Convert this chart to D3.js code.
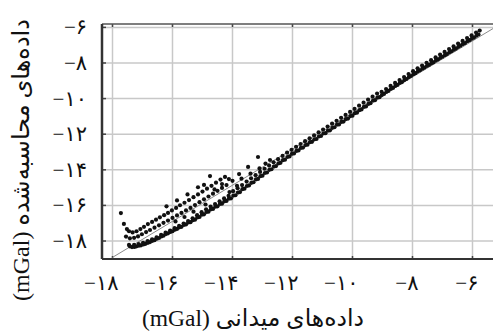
<!DOCTYPE html>
<html>
<head>
<meta charset="utf-8">
<script src="https://d3js.org/d3.v7.min.js"></script>
<style>
  body { margin: 0; background: #fff; }
  .tick-label { font-family: 'Liberation Serif', 'DejaVu Sans', serif; font-size: 21px; fill: #111; }
  .axis-title { font-family: 'Liberation Serif', 'DejaVu Sans', serif; font-size: 23.5px; fill: #111; }
</style>
</head>
<body>
<svg width="493" height="336"></svg>
<script>
// tick values and their Persian labels
const xTicks = [-18, -16, -14, -12, -10, -8, -6];
const yTicks = [-18, -16, -14, -12, -10, -8, -6];
const tickLabels = ['\u2212۱۸', '\u2212۱۶', '\u2212۱۴', '\u2212۱۲', '\u2212۱۰', '\u2212۸', '\u2212۶'];
const xTitle = 'داده\u200cهای میدانی (mGal)';
const yTitle = 'داده\u200cهای محاسبه\u200cشده (mGal)';

// reference line end points [field, computed]
const refLine = [[-18, -18.92], [-5.3, -6.05]];

// main band, lower row [field, computed]
const bandLow = [
  [-17.45, -18.22], [-17.35, -18.34], [-17.2, -18.3], [-17.05, -18.24], [-16.9, -18.16], [-16.75, -18.06],
  [-16.6, -17.95], [-16.45, -17.83], [-16.3, -17.7], [-16.15, -17.57], [-16.0, -17.45], [-15.85, -17.32],
  [-15.7, -17.2], [-15.55, -17.07], [-15.4, -16.94], [-15.25, -16.8], [-15.1, -16.65], [-14.95, -16.5],
  [-14.8, -16.35], [-14.65, -16.2], [-14.5, -16.05], [-14.35, -15.9], [-14.2, -15.75], [-14.05, -15.6],
  [-13.9, -15.43], [-13.75, -15.25], [-13.6, -15.06], [-13.45, -14.88], [-13.3, -14.7], [-13.15, -14.51],
  [-13.0, -14.33], [-12.85, -14.15], [-12.7, -13.97], [-12.55, -13.79], [-12.4, -13.61], [-12.25, -13.43],
  [-12.1, -13.25], [-11.95, -13.08], [-11.8, -12.91], [-11.65, -12.75], [-11.5, -12.59], [-11.35, -12.43],
  [-11.2, -12.27], [-11.05, -12.1], [-10.9, -11.94], [-10.75, -11.78], [-10.6, -11.61], [-10.45, -11.45],
  [-10.3, -11.29], [-10.15, -11.12], [-10.0, -10.96], [-9.85, -10.79], [-9.7, -10.61], [-9.55, -10.44],
  [-9.4, -10.26], [-9.25, -10.09], [-9.1, -9.92], [-8.95, -9.74], [-8.8, -9.57], [-8.65, -9.4],
  [-8.5, -9.23], [-8.35, -9.07], [-8.2, -8.9], [-8.05, -8.73], [-7.9, -8.57], [-7.75, -8.41],
  [-7.6, -8.26], [-7.45, -8.11], [-7.3, -7.96], [-7.15, -7.8], [-7.0, -7.65], [-6.85, -7.5],
  [-6.7, -7.34], [-6.55, -7.19], [-6.4, -7.03], [-6.25, -6.88], [-6.1, -6.72], [-5.95, -6.57],
  [-5.8, -6.4]
];

// main band, middle row
const bandMid = [
  [-17.42, -18.3], [-17.27, -18.33], [-17.12, -18.26], [-16.97, -18.19], [-16.82, -18.1], [-16.67, -17.99],
  [-16.52, -17.87], [-16.37, -17.74], [-16.22, -17.61], [-16.07, -17.49], [-15.92, -17.36], [-15.77, -17.23],
  [-15.62, -17.1], [-15.47, -16.96], [-15.32, -16.83], [-15.17, -16.68], [-15.02, -16.52], [-14.87, -16.37],
  [-14.72, -16.22], [-14.57, -16.07], [-14.42, -15.92], [-14.27, -15.77], [-14.12, -15.62], [-13.97, -15.45],
  [-13.82, -15.28], [-13.67, -15.09], [-13.52, -14.91], [-13.37, -14.73], [-13.22, -14.54], [-13.07, -14.36],
  [-12.92, -14.18], [-12.77, -14.0], [-12.62, -13.82], [-12.47, -13.64], [-12.32, -13.46], [-12.17, -13.28],
  [-12.02, -13.1], [-11.87, -12.94], [-11.72, -12.77], [-11.57, -12.61], [-11.42, -12.45], [-11.27, -12.29],
  [-11.12, -12.13], [-10.97, -11.96], [-10.82, -11.8], [-10.67, -11.64], [-10.52, -11.47], [-10.37, -11.31],
  [-10.22, -11.15], [-10.07, -10.98], [-9.92, -10.82], [-9.77, -10.65], [-9.62, -10.47], [-9.47, -10.3],
  [-9.32, -10.12], [-9.17, -9.95], [-9.02, -9.8], [-8.87, -9.63], [-8.72, -9.46], [-8.57, -9.29],
  [-8.42, -9.12], [-8.27, -8.96], [-8.12, -8.79], [-7.97, -8.63], [-7.82, -8.47], [-7.67, -8.32],
  [-7.52, -8.17], [-7.37, -8.02], [-7.22, -7.86], [-7.07, -7.71], [-6.92, -7.56], [-6.77, -7.4],
  [-6.62, -7.25], [-6.47, -7.09], [-6.32, -6.94], [-6.17, -6.78], [-6.02, -6.63], [-5.87, -6.47]
];

// main band, upper row
const bandHigh = [
  [-17.28, -18.22], [-17.13, -18.17], [-16.98, -18.1], [-16.83, -18.01], [-16.68, -17.9], [-16.53, -17.79],
  [-16.38, -17.66], [-16.23, -17.53], [-16.08, -17.41], [-15.93, -17.28], [-15.78, -17.15], [-15.63, -17.02],
  [-15.48, -16.88], [-15.33, -16.72], [-15.18, -16.55], [-15.03, -16.38], [-14.88, -16.22], [-14.73, -16.06],
  [-14.58, -15.92], [-14.43, -15.77], [-14.28, -15.61], [-14.13, -15.46], [-13.98, -15.2], [-13.83, -15.03],
  [-13.68, -14.86], [-13.53, -14.66], [-13.38, -14.48], [-13.23, -14.3], [-13.08, -14.12], [-12.93, -13.94],
  [-12.78, -13.76], [-12.63, -13.58], [-12.48, -13.4], [-12.33, -13.22], [-12.18, -13.04], [-12.03, -12.88],
  [-11.88, -12.71], [-11.73, -12.55], [-11.58, -12.39], [-11.43, -12.23], [-11.28, -12.07], [-11.13, -11.9],
  [-10.98, -11.74], [-10.83, -11.57], [-10.68, -11.41], [-10.53, -11.25], [-10.38, -11.08], [-10.23, -10.92],
  [-10.08, -10.75], [-9.93, -10.58], [-9.78, -10.4], [-9.63, -10.23], [-9.48, -10.06], [-9.33, -9.89],
  [-9.18, -9.72], [-9.03, -9.62], [-8.88, -9.46], [-8.73, -9.29], [-8.58, -9.12], [-8.43, -8.96],
  [-8.28, -8.79], [-8.13, -8.62], [-7.98, -8.46], [-7.83, -8.3], [-7.68, -8.14], [-7.53, -7.99],
  [-7.38, -7.84], [-7.23, -7.69], [-7.08, -7.53], [-6.93, -7.38], [-6.78, -7.22], [-6.63, -7.07],
  [-6.48, -6.91], [-6.33, -6.76], [-6.18, -6.6], [-6.03, -6.45], [-5.88, -6.29], [-5.76, -6.18]
];

// upper hooked streak
const streakA = [
  [-17.45, -17.45], [-17.33, -17.52], [-17.2, -17.45], [-17.07, -17.33], [-16.95, -17.2], [-16.82, -17.05],
  [-16.68, -16.93], [-16.55, -16.8], [-16.42, -16.67], [-16.28, -16.55], [-16.15, -16.42], [-16.02, -16.28],
  [-15.88, -16.14], [-15.75, -15.99], [-15.6, -15.85], [-15.45, -15.7], [-15.3, -15.54], [-15.15, -15.38],
  [-15.0, -15.22], [-14.85, -15.06], [-14.7, -14.9], [-14.55, -14.72], [-14.4, -14.55], [-14.25, -14.4]
];

// middle hooked streak
const streakB = [
  [-17.55, -17.75], [-17.42, -17.85], [-17.28, -17.82], [-17.15, -17.74], [-17.02, -17.62], [-16.88, -17.5],
  [-16.75, -17.38], [-16.6, -17.25], [-16.45, -17.12], [-16.3, -16.98], [-16.15, -16.85], [-16.0, -16.7],
  [-15.85, -16.56], [-15.7, -16.42], [-15.55, -16.28], [-15.4, -16.14], [-15.25, -15.98], [-15.1, -15.82],
  [-14.95, -15.66], [-14.8, -15.5], [-14.65, -15.34], [-14.5, -15.18], [-14.35, -15.02], [-14.2, -14.86]
];

// scattered points above the band
const scattered = [
  [-17.72, -16.43], [-17.62, -17.04], [-17.52, -17.33],
  [-16.2, -16.05], [-15.85, -15.72], [-15.5, -15.38], [-15.15, -14.98], [-14.95, -14.85], [-14.75, -14.35],
  [-14.35, -14.8], [-14.12, -14.52], [-13.78, -14.24], [-13.48, -13.84], [-13.15, -13.28], [-12.75, -13.45],
  [-14.6, -15.1], [-14.0, -14.62], [-13.7, -14.5], [-13.4, -14.22], [-13.1, -13.92], [-12.9, -13.65],
  [-15.9, -16.9], [-15.6, -16.65], [-15.3, -16.35], [-14.9, -15.95], [-14.1, -15.25], [-13.85, -14.9]
];

const svg = d3.select('svg');
const pLeft = 102, pTop = 24, pBottom = 259, pRight = 500;

const x = d3.scaleLinear().domain([-18.35, -5.083]).range([pLeft, pRight]);
const y = d3.scaleLinear().domain([-19.01, -5.81]).range([pBottom, pTop]);

svg.append('defs').append('clipPath').attr('id', 'plot')
  .append('rect').attr('x', pLeft).attr('y', pTop).attr('width', pRight - pLeft).attr('height', pBottom - pTop);

// grid
const grid = svg.append('g');
grid.selectAll('.gx').data(xTicks).join('line').attr('class', 'gx')
  .attr('x1', d => x(d)).attr('x2', d => x(d)).attr('y1', pTop).attr('y2', pBottom)
  .attr('stroke', '#c8c8c8').attr('stroke-width', 1.5);
grid.selectAll('.gy').data(yTicks).join('line').attr('class', 'gy')
  .attr('x1', pLeft).attr('x2', pRight).attr('y1', d => y(d)).attr('y2', d => y(d))
  .attr('stroke', '#c8c8c8').attr('stroke-width', 1.5);

// small inner ticks on frame
grid.selectAll('.tb').data(xTicks).join('line').attr('class', 'tb')
  .attr('x1', d => x(d)).attr('x2', d => x(d)).attr('y1', pBottom).attr('y2', pBottom - 3)
  .attr('stroke', '#444').attr('stroke-width', 1.5);
grid.selectAll('.tt').data(xTicks).join('line').attr('class', 'tt')
  .attr('x1', d => x(d)).attr('x2', d => x(d)).attr('y1', pTop).attr('y2', pTop + 3)
  .attr('stroke', '#444').attr('stroke-width', 1.5);
grid.selectAll('.tl').data(yTicks).join('line').attr('class', 'tl')
  .attr('x1', pLeft).attr('x2', pLeft + 4).attr('y1', d => y(d)).attr('y2', d => y(d))
  .attr('stroke', '#444').attr('stroke-width', 1.5);

const plot = svg.append('g').attr('clip-path', 'url(#plot)');

plot.append('line')
  .attr('x1', x(refLine[0][0])).attr('y1', y(refLine[0][1]))
  .attr('x2', x(refLine[1][0])).attr('y2', y(refLine[1][1]))
  .attr('stroke', '#8a8a8a').attr('stroke-width', 1);

const pts = [].concat(bandLow, bandMid, bandHigh, streakA, streakB, scattered);
plot.selectAll('circle').data(pts).join('circle')
  .attr('cx', d => x(d[0])).attr('cy', d => y(d[1]))
  .attr('r', 2.1).attr('fill', '#111');

// frame
svg.append('line').attr('x1', pLeft).attr('x2', pRight).attr('y1', pTop).attr('y2', pTop)
  .attr('stroke', '#555').attr('stroke-width', 1.5);
svg.append('line').attr('x1', pLeft).attr('x2', pRight).attr('y1', pBottom).attr('y2', pBottom)
  .attr('stroke', '#333').attr('stroke-width', 2);
svg.append('line').attr('x1', pLeft).attr('x2', pLeft).attr('y1', pTop).attr('y2', pBottom)
  .attr('stroke', '#333').attr('stroke-width', 2.5);

// tick labels
svg.selectAll('.xl').data(xTicks).join('text')
  .attr('class', 'tick-label xl')
  .attr('x', d => x(d) + 6).attr('y', 290)
  .attr('text-anchor', 'end').attr('direction', 'ltr')
  .text((d, i) => tickLabels[i]);
svg.selectAll('.yl').data(yTicks).join('text')
  .attr('class', 'tick-label yl')
  .attr('x', 87).attr('y', d => y(d) + 7)
  .attr('text-anchor', 'end').attr('direction', 'ltr')
  .text((d, i) => tickLabels[i]);

// axis titles
svg.append('text').attr('class', 'axis-title')
  .attr('x', 253).attr('y', 326)
  .attr('text-anchor', 'middle').style('direction', 'rtl').style('unicode-bidi', 'embed')
  .text(xTitle);
svg.append('text').attr('class', 'axis-title')
  .style('font-size', '24px')
  .attr('transform', 'translate(29,160) rotate(-90)')
  .attr('text-anchor', 'middle').style('direction', 'rtl').style('unicode-bidi', 'embed')
  .text(yTitle);
</script>
</body>
</html>
